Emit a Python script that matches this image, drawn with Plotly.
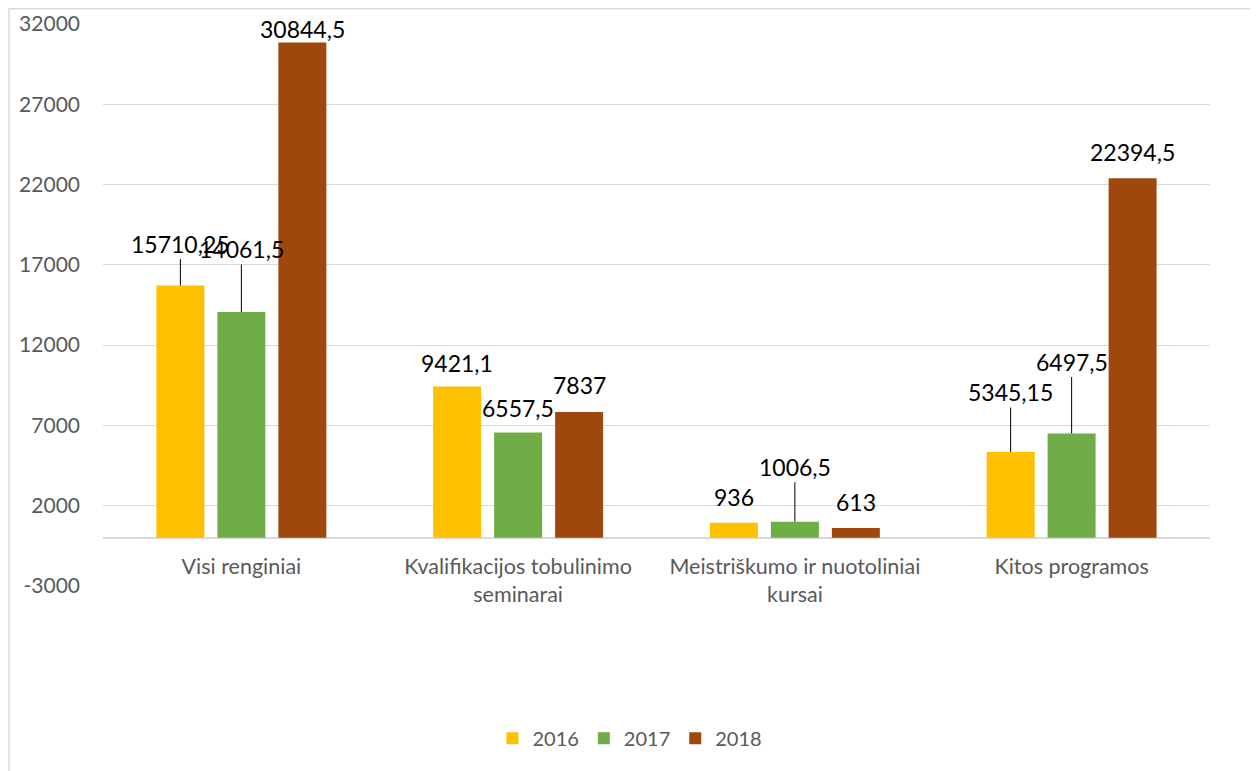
import plotly.graph_objects as go

categories = ["Visi renginiai", "Kvalifikacijos tobulinimo<br>seminarai",
              "Meistriškumo ir nuotoliniai<br>kursai", "Kitos programos"]
series_names = ["2016", "2017", "2018"]
values_2016 = [15710.25, 9421.1, 936, 5345.15]
values_2017 = [14061.5, 6557.5, 1006.5, 6497.5]
values_2018 = [30844.5, 7837, 613, 22394.5]
label_2016 = ["15710,25", "9421,1", "936", "5345,15"]
label_2017 = ["14061,5", "6557,5", "1006,5", "6497,5"]
label_2018 = ["30844,5", "7837", "613", "22394,5"]
y_ticks = [-3000, 2000, 7000, 12000, 17000, 22000, 27000, 32000]
y_min, y_max = -3000, 32000

colors = ["#FFC000", "#70AD47", "#9E480E"]
all_values = [values_2016, values_2017, values_2018]
all_labels = [label_2016, label_2017, label_2018]

# label placement style: (leader line length in px or None, plain lift in px)
leader = [
    [42, None, None, 60],
    [63, None, 55, 72],
    [None, None, None, None],
]
lift = [
    [0, 24, 26, 0],
    [0, 25, 0, 0],
    [14, 27, 26, 26],
]

FONT = "Lato, 'Open Sans', sans-serif"
fig = go.Figure()
for name, vals, col in zip(series_names, all_values, colors):
    fig.add_trace(go.Bar(name=name, x=categories, y=vals, marker_color=col,
                         marker_line_width=0, hoverinfo="x+y"))

slot_px = 61
annotations = []
for si, (vals, labs) in enumerate(zip(all_values, all_labels)):
    for ci, (cat, v, lab) in enumerate(zip(categories, vals, labs)):
        shift = (si - 1) * slot_px
        if leader[si][ci] is not None:
            annotations.append(dict(x=cat, y=v, xref="x", yref="y", text=lab,
                                    showarrow=True, arrowhead=0, arrowwidth=1,
                                    arrowcolor="#000000", ax=0, ay=-leader[si][ci],
                                    xshift=shift, standoff=0,
                                    font=dict(family=FONT, size=23, color="#000000")))
        else:
            annotations.append(dict(x=cat, y=v, xref="x", yref="y", text=lab,
                                    showarrow=False, xshift=shift, yshift=lift[si][ci],
                                    yanchor="middle",
                                    font=dict(family=FONT, size=23, color="#000000")))

fig.update_layout(
    width=1250, height=763,
    margin=dict(l=95, r=48, t=16, b=185, pad=0, autoexpand=False),
    paper_bgcolor="white", plot_bgcolor="white",
    barmode="group", bargap=0.339, bargroupgap=0.213,
    font=dict(family=FONT, size=21, color="#595959"),
    showlegend=True,
    legend=dict(orientation="h", x=0.476, xanchor="center", y=-0.271, yanchor="middle",
                font=dict(family=FONT, size=20, color="#595959"), itemclick=False,
                traceorder="normal"),
    annotations=annotations,
    shapes=[dict(type="rect", xref="paper", yref="paper", x0=-0.0849, x1=1.0416,
                 y0=-0.36, y1=1.0271, line=dict(color="#D9D9D9", width=1.5),
                 fillcolor="rgba(0,0,0,0)", layer="below")],
)
fig.update_xaxes(anchor="free", position=(0 - y_min) / (y_max - y_min),
                 showline=False, showgrid=False, ticks="", ticklabelstandoff=14,
                 automargin=False,
                 tickfont=dict(family=FONT, size=21.5, color="#595959"))
fig.update_yaxes(range=[y_min, y_max], tickvals=y_ticks,
                 ticktext=[str(t) for t in y_ticks], automargin=False,
                 showgrid=True, gridcolor="#D9D9D9", gridwidth=1.4,
                 zeroline=True, zerolinecolor="#D9D9D9", zerolinewidth=1.6,
                 showline=False, ticks="", ticklabelstandoff=22,
                 tickfont=dict(family=FONT, size=21, color="#595959"))

fig.write_html("out.html")
